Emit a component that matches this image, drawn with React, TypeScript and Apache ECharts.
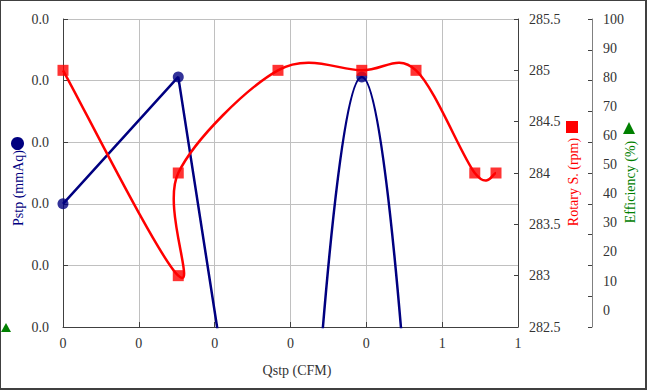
import React, { useEffect, useRef } from 'react';
import * as echarts from 'echarts';

// ---- tick labels ----
const X_TICKS = ['0', '0', '0', '0', '0', '1', '1'];
const PSTP_TICKS = ['0.0', '0.0', '0.0', '0.0', '0.0', '0.0'];
const EFF_TICKS = [0, 10, 20, 30, 40, 50, 60, 70, 80, 90, 100];

// ---- Pstp (mmAq) series: straight run, then smoothed run (points below 0 are off-axis) ----
const PSTP_Q_A = [0, 0.152, 0.241];
const PSTP_P_A = [2.0, 4.06, -3.0];
const PSTP_Q_B = [0.306, 0.394, 0.483];
const PSTP_P_B = [-7.0, 4.06, -7.0];

// ---- Rotary S. (rpm) series ----
const ROT_Q = [0, 0.152, 0.152, 0.2835, 0.394, 0.4655, 0.543, 0.571];
const ROT_S = [285, 283, 284, 285, 285, 285, 284, 284];

// ---- Efficiency (%) series (no points shown) ----
const EFF_Q: number[] = [];
const EFF_V: number[] = [];

const NAVY = '#000080';
const RED = '#ff0000';
const GREEN = '#008000';
const FONT = '"Liberation Serif", "Times New Roman", serif';
const TXT = '#333333';
const AXIS = '#404040';
const GRID = '#c0c0c0';

function buildOption(): any {
  const labelBase = { fontFamily: FONT, fontSize: 14, color: TXT };
  return {
    animation: false,
    backgroundColor: '#ffffff',
    grid: { left: 63, right: 129, top: 19, bottom: 63, containLabel: false, outerBoundsMode: 'none' },
    xAxis: {
      type: 'value',
      min: 0,
      max: 0.6,
      interval: 0.1,
      axisLine: { show: true, lineStyle: { color: AXIS, width: 1 } },
      axisTick: { show: true, inside: true, length: 5, lineStyle: { color: AXIS } },
      axisLabel: {
        ...labelBase,
        margin: 9,
        formatter: (v: number) => X_TICKS[Math.round(v * 10)] ?? '',
      },
      splitLine: { show: true, lineStyle: { color: GRID, width: 1 } },
    },
    yAxis: [
      {
        type: 'value',
        position: 'left',
        min: 0,
        max: 5,
        interval: 1,
        axisLine: { show: true, lineStyle: { color: AXIS, width: 1 } },
        axisTick: { show: true, inside: true, length: 5, lineStyle: { color: AXIS } },
        axisLabel: { ...labelBase, margin: 14, formatter: (v: number) => PSTP_TICKS[Math.round(v)] ?? '' },
        splitLine: { show: true, lineStyle: { color: GRID, width: 1 } },
      },
      {
        type: 'value',
        position: 'right',
        offset: 0,
        min: 282.5,
        max: 285.5,
        interval: 0.5,
        axisLine: { show: true, lineStyle: { color: AXIS, width: 1 } },
        axisTick: { show: true, inside: true, length: 4, lineStyle: { color: AXIS } },
        axisLabel: { ...labelBase, margin: 11, formatter: (v: number) => String(v) },
        splitLine: { show: false },
      },
      {
        type: 'value',
        position: 'right',
        offset: 74,
        min: 0,
        max: 100,
        interval: 10,
        axisLine: { show: true, lineStyle: { color: '#808080', width: 1 } },
        axisTick: { show: true, inside: true, length: 4, lineStyle: { color: AXIS } },
        axisLabel: { show: false },
        splitLine: { show: false },
      },
      {
        type: 'value',
        position: 'right',
        offset: 74,
        min: -5.8,
        max: 100,
        axisLine: { show: false },
        axisTick: { show: false },
        axisLabel: { ...labelBase, margin: 11, customValues: EFF_TICKS, formatter: (v: number) => String(v) },
        splitLine: { show: false },
      },
    ],
    series: [
      {
        name: 'Pstp-a',
        type: 'line',
        yAxisIndex: 0,
        data: PSTP_Q_A.map((q, i) => [q, PSTP_P_A[i]]),
        showSymbol: false,
        smooth: false,
        clip: true,
        lineStyle: { color: NAVY, width: 2.5 },
        z: 2,
      },
      {
        name: 'Pstp-b',
        type: 'line',
        yAxisIndex: 0,
        data: PSTP_Q_B.map((q, i) => [q, PSTP_P_B[i]]),
        showSymbol: false,
        smooth: 0.5,
        clip: true,
        lineStyle: { color: NAVY, width: 2.5 },
        z: 2,
      },
      {
        name: 'Pstp',
        type: 'scatter',
        yAxisIndex: 0,
        clip: true,
        data: [...PSTP_Q_A.map((q, i) => [q, PSTP_P_A[i]]), ...PSTP_Q_B.map((q, i) => [q, PSTP_P_B[i]])],
        symbol: 'circle',
        symbolSize: 11,
        itemStyle: { color: NAVY },
        z: 3,
      },
      {
        name: 'Efficiency',
        type: 'line',
        yAxisIndex: 2,
        data: EFF_Q.map((q, i) => [q, EFF_V[i]]),
        lineStyle: { color: GREEN },
      },
      {
        name: 'Rotary-line',
        type: 'custom',
        yAxisIndex: 1,
        data: ROT_Q.map((q, i) => [q, ROT_S[i]]),
        encode: { x: 0, y: 1 },
        z: 4,
        renderItem: (params: any, api: any) => {
          if (params.dataIndex !== 0) return null;
          const pts = ROT_Q.map((q, i) => api.coord([q, ROT_S[i]]));
          let d = `M${pts[0][0]} ${pts[0][1]}`;
          const n = pts.length;
          for (let i = 0; i < n - 1; i++) {
            const p0 = pts[Math.max(i - 1, 0)];
            const p1 = pts[i];
            const p2 = pts[i + 1];
            const p3 = pts[Math.min(i + 2, n - 1)];
            const c1x = p1[0] + (p2[0] - p0[0]) / 6;
            const c1y = p1[1] + (p2[1] - p0[1]) / 6;
            const c2x = p2[0] - (p3[0] - p1[0]) / 6;
            const c2y = p2[1] - (p3[1] - p1[1]) / 6;
            d += ` C${c1x} ${c1y} ${c2x} ${c2y} ${p2[0]} ${p2[1]}`;
          }
          return {
            type: 'path',
            shape: { pathData: d },
            style: { fill: 'none', stroke: RED, lineWidth: 2.5 },
          };
        },
      },
      {
        name: 'Rotary S.',
        type: 'scatter',
        yAxisIndex: 1,
        data: ROT_Q.map((q, i) => [q, ROT_S[i]]),
        symbol: 'rect',
        symbolSize: 11,
        itemStyle: { color: RED },
        z: 5,
      },
    ],
    graphic: [
      { type: 'circle', shape: { cx: 17.5, cy: 143.5, r: 6.5 }, style: { fill: NAVY } },
      {
        type: 'text', x: 18.5, y: 188, rotation: Math.PI / 2,
        style: { text: 'Pstp (mmAq)', fill: NAVY, fontFamily: FONT, fontSize: 14, textAlign: 'center', textVerticalAlign: 'middle', align: 'center', verticalAlign: 'middle' },
      },
      { type: 'polygon', shape: { points: [[1, 332], [11, 332], [6, 323]] }, style: { fill: GREEN } },
      { type: 'rect', shape: { x: 566, y: 121, width: 12, height: 12 }, style: { fill: RED } },
      {
        type: 'text', x: 573, y: 182, rotation: Math.PI / 2,
        style: { text: 'Rotary S. (rpm)', fill: RED, fontFamily: FONT, fontSize: 14, textAlign: 'center', textVerticalAlign: 'middle', align: 'center', verticalAlign: 'middle' },
      },
      { type: 'polygon', shape: { points: [[623, 134], [635, 134], [629, 122]] }, style: { fill: GREEN } },
      {
        type: 'text', x: 630, y: 182, rotation: Math.PI / 2,
        style: { text: 'Efficiency (%)', fill: GREEN, fontFamily: FONT, fontSize: 14, textAlign: 'center', textVerticalAlign: 'middle', align: 'center', verticalAlign: 'middle' },
      },
      {
        type: 'text', x: 297, y: 370,
        style: { text: 'Qstp (CFM)', fill: TXT, fontFamily: FONT, fontSize: 14, textAlign: 'center', textVerticalAlign: 'middle', align: 'center', verticalAlign: 'middle' },
      },
    ],
  };
}

export default function App() {
  const ref = useRef<HTMLDivElement>(null);
  useEffect(() => {
    if (!ref.current) return;
    const chart = echarts.init(ref.current, undefined, { renderer: 'svg', width: 647, height: 390 });
    chart.setOption(buildOption());
    return () => chart.dispose();
  }, []);
  return (
    <div style={{ position: 'fixed', left: 0, top: 0, width: 647, height: 390, background: '#fff' }}>
      <div ref={ref} style={{ width: 647, height: 390 }} />
      <div
        style={{
          position: 'absolute', left: 0, top: 0, width: 647, height: 390, boxSizing: 'border-box',
          borderTop: '1px solid #404040', borderLeft: '1px solid #404040',
          borderRight: '2px solid #404040', borderBottom: '2px solid #404040', pointerEvents: 'none',
        }}
      />
    </div>
  );
}
